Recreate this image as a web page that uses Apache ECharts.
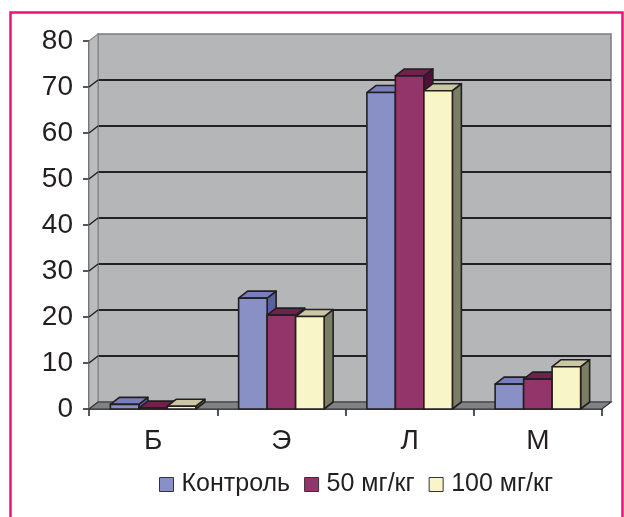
<!DOCTYPE html>
<html>
<head>
<meta charset="utf-8">
<script src="https://cdn.jsdelivr.net/npm/echarts@6/dist/echarts.min.js"></script>
<style>
  html, body { margin: 0; padding: 0; background: #fff; }
  #chart { width: 624px; height: 517px; }
</style>
</head>
<body>
<div id="chart"></div>
<script>
// Categories and series values
const categories = ['Б', 'Э', 'Л', 'М'];
const seriesNames = ['Контроль', '50 мг/кг', '100 мг/кг'];
const control = [1.0, 24.1, 68.8, 5.4];
const dose50 = [0.2, 20.4, 72.4, 6.5];
const dose100 = [0.6, 20.1, 69.2, 9.2];
const yTicks = [0, 10, 20, 30, 40, 50, 60, 70, 80];

// Face colours of the 3-D columns: front, top, side
const faces = [
  { front: '#8890C6', top: '#7880BC', side: '#5860A0' },
  { front: '#93356A', top: '#73204F', side: '#530F3A' },
  { front: '#F8F6C8', top: '#C9C8A2', side: '#7B7E67' }
];

const INK = '#231F20';
const DX = 9, DY = 7;          // depth offset of walls and columns
const FRONT = { left: 89, top: 41, width: 513, height: 368 };

const chart = echarts.init(document.getElementById('chart'), null, { renderer: 'canvas' });

// Left wall, floor and the wall's gridline traces, drawn from the front axis scale
function wallItem(params, api) {
  const cs = params.coordSys;
  const x0 = cs.x, x1 = cs.x + cs.width;
  const y0 = api.coord([0, 0])[1];
  const yTop = api.coord([0, yTicks[yTicks.length - 1]])[1];
  const children = [
    { type: 'polygon', shape: { points: [[x0, yTop], [x0 + DX, yTop - DY], [x0 + DX, y0 - DY], [x0, y0]] },
      style: { fill: '#BBBCBE', stroke: '#8A8A8A', lineWidth: 1.2 } },
    { type: 'polygon', shape: { points: [[x0, y0], [x1, y0], [x1 + DX, y0 - DY], [x0 + DX, y0 - DY]] },
      style: { fill: '#7F8385', stroke: '#333', lineWidth: 1.2 } }
  ];
  yTicks.slice(1, -1).forEach(v => {
    const y = api.coord([0, v])[1];
    children.push({ type: 'line', shape: { x1: x0, y1: y, x2: x0 + DX, y2: y - DY },
      style: { stroke: '#222', lineWidth: 1.5 } });
  });
  return { type: 'group', children };
}

function barItem(s) {
  return function (params, api) {
    const ci = api.value(0), v = api.value(1);
    const base = api.coord([ci, 0]);
    const top = api.coord([ci, v]);
    const band = api.size([1, 0])[0];
    const bw = band / 4.5;
    const x0 = base[0] - 1.5 * bw + s * bw;
    const yb = base[1], yt = top[1];
    const f = faces[s];
    const line = { stroke: INK, lineWidth: 1.6, lineJoin: 'round' };
    return {
      type: 'group',
      children: [
        { type: 'polygon', shape: { points: [[x0 + bw, yt], [x0 + bw + DX, yt - DY], [x0 + bw + DX, yb - DY], [x0 + bw, yb]] },
          style: Object.assign({ fill: f.side }, line) },
        { type: 'polygon', shape: { points: [[x0, yt], [x0 + DX, yt - DY], [x0 + bw + DX, yt - DY], [x0 + bw, yt]] },
          style: Object.assign({ fill: f.top }, line) },
        { type: 'rect', shape: { x: x0, y: yt, width: bw, height: yb - yt },
          style: Object.assign({ fill: f.front }, line) }
      ]
    };
  };
}

const values = [control, dose50, dose100];
const splitColors = yTicks.map((v, i) => (i === 0 || i === yTicks.length - 1) ? 'rgba(0,0,0,0)' : '#222');

const option = {
  animation: false,
  backgroundColor: '#fff',
  textStyle: { fontFamily: 'Liberation Sans, Arial, sans-serif', color: INK },
  graphic: [
    { type: 'rect', left: 8, top: 10, shape: { width: 612, height: 520 },
      style: { fill: 'none', stroke: '#E5157D', lineWidth: 2.5 }, z: -10 }
  ],
  grid: [
    { left: FRONT.left + DX, top: FRONT.top - DY, width: FRONT.width, height: FRONT.height,
      show: true, backgroundColor: '#B5B6B8', borderColor: '#7B7B7B', borderWidth: 1.5 },
    { left: FRONT.left, top: FRONT.top, width: FRONT.width, height: FRONT.height }
  ],
  xAxis: [
    { gridIndex: 0, type: 'category', data: categories, show: false },
    { gridIndex: 1, type: 'category', data: categories,
      axisLine: { lineStyle: { color: INK, width: 1.5 } },
      axisTick: { show: true, length: 7, lineStyle: { color: INK, width: 1.5 } },
      axisLabel: { fontSize: 28, color: INK, margin: 18 } }
  ],
  yAxis: [
    { gridIndex: 0, type: 'value', min: 0, max: 80, interval: 10,
      axisLine: { show: false }, axisTick: { show: false }, axisLabel: { show: false },
      splitLine: { show: true, lineStyle: { color: splitColors, width: 2 } } },
    { gridIndex: 1, type: 'value', min: 0, max: 80, interval: 10,
      axisLine: { show: true, lineStyle: { color: INK, width: 1.5 } },
      axisTick: { show: true, length: 6, lineStyle: { color: INK, width: 1.5 } },
      axisLabel: { fontSize: 28, color: INK, margin: 16 },
      splitLine: { show: false } }
  ],
  legend: {
    data: seriesNames,
    left: 159, top: 472,
    icon: 'rect', itemWidth: 14, itemHeight: 14, itemGap: 14, padding: 0,
    textStyle: { fontSize: 25, color: INK, padding: [0, 0, 0, 3],
      fontFamily: 'Liberation Sans, Arial, sans-serif' },
    itemStyle: { borderColor: '#333', borderWidth: 1 }
  },
  series: [
    { type: 'custom', name: 'walls', xAxisIndex: 1, yAxisIndex: 1, z: 1,
      renderItem: wallItem, data: [[0, 0]], silent: true }
  ].concat(values.map((vals, s) => ({
    type: 'custom',
    name: seriesNames[s],
    xAxisIndex: 1, yAxisIndex: 1, z: 2 + s,
    itemStyle: { color: faces[s].front, borderColor: '#333', borderWidth: 1 },
    encode: { x: 0, y: 1 },
    renderItem: barItem(s),
    data: vals.map((v, i) => [i, v])
  })))
};

chart.setOption(option);
</script>
</body>
</html>
